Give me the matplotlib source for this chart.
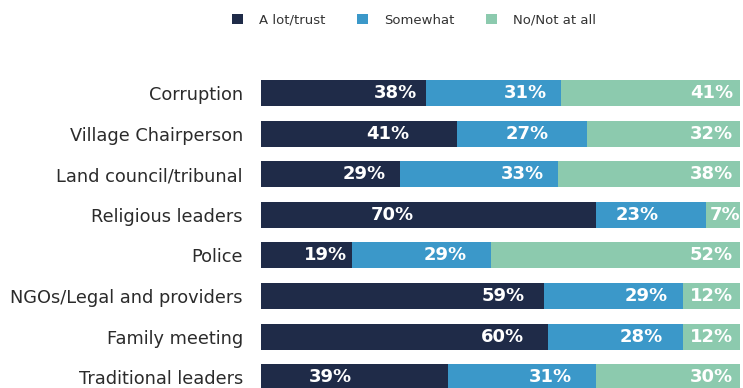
import numpy as np
import matplotlib.pyplot as plt

categories = ["Corruption", "Village Chairperson", "Land council/tribunal",
              "Religious leaders", "Police", "NGOs/Legal and providers",
              "Family meeting", "Traditional leaders"]
a_lot = [38, 41, 29, 70, 19, 59, 60, 39]
somewhat = [31, 27, 33, 23, 29, 29, 28, 31]
not_at_all = [41, 32, 38, 7, 52, 12, 12, 30]

series_names = ["A lot/trust", "Somewhat", "No/Not at all"]
colors = ["#1f2b48", "#3b98c9", "#8ccaae"]

# how far (in % of bar width) each label's right edge sits left of its segment end
label_gap = np.array([
    [2, 3, 1.5],
    [10, 8, 1.5],
    [3, 3, 1.5],
    [38, 10, 0],
    [1, 5, 1.5],
    [4, 3, 1.5],
    [5, 4, 1.5],
    [20, 5, 1.5],
])

plt.rcParams['font.family'] = ['DejaVu Sans']

vals = np.array([a_lot, somewhat, not_at_all], dtype=float).T
shares = vals / vals.sum(axis=1, keepdims=True) * 100
y = np.arange(len(categories))

fig = plt.figure(figsize=(7.43, 3.88), dpi=100)
ax = fig.add_axes([261 / 743, 0, 479 / 743, 315.3 / 388])

left = np.zeros(len(categories))
handles = []
for j in range(3):
    h = ax.barh(y, shares[:, j], left=left, height=0.64, color=colors[j],
                label=series_names[j])
    handles.append(h)
    for i in range(len(categories)):
        x_end = left[i] + shares[i, j] - label_gap[i, j]
        ax.text(x_end, y[i], f"{int(vals[i, j])}%", ha="right", va="center",
                color="white", fontsize=13, fontweight="bold")
    left += shares[:, j]

ax.set_xlim(0, 100)
ax.set_ylim(7.266, -0.5)
ax.set_yticks(y)
ax.set_yticklabels(categories, fontsize=12.8, color="#2b2b2b")
ax.tick_params(axis="y", length=0, pad=13)
ax.set_xticks([])
for s in ax.spines.values():
    s.set_visible(False)

fig.legend(handles=handles, loc="center", bbox_to_anchor=(0.557, 0.948),
           ncol=3, frameon=False, fontsize=9.5, handlelength=0.85,
           handleheight=0.85, columnspacing=2.4, handletextpad=1.2,
           labelcolor="#333333")

fig.savefig("out.png", dpi=100)
